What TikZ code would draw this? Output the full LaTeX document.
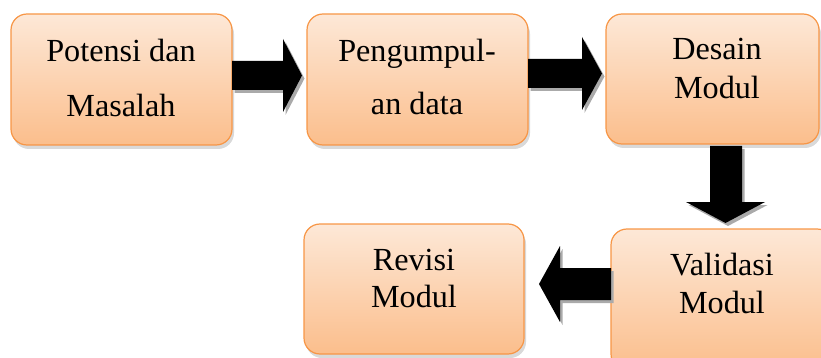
\documentclass[tikz,border=0pt]{standalone}
\usepackage{fontspec}
\setmainfont{Liberation Serif}
\usetikzlibrary{shadows}
\definecolor{boxline}{RGB}{247,150,70}
\definecolor{boxtop}{RGB}{253,232,215}
\definecolor{boxbot}{RGB}{251,190,140}
\definecolor{arrowshade}{RGB}{170,170,170}
\tikzset{
  stepbox/.style={draw=boxline, line width=1.2pt, rounded corners=16pt,
    top color=boxtop, bottom color=boxbot,
    drop shadow={opacity=0.3, shadow xshift=2pt, shadow yshift=-4pt}},
  lbl/.style={font=\fontsize{32.2}{32}\selectfont, anchor=base, inner sep=0pt},
  blockarrow/.style={fill=black},
  blockshadow/.style={fill=arrowshade}
}
\begin{document}
\begin{tikzpicture}[x=1pt,y=-1pt]
\useasboundingbox (0,0) rectangle (821,358);
\begin{scope}
\clip (0,0) rectangle (821,358);
% boxes
\node[stepbox, minimum width=221pt, minimum height=131pt] (b1) at (121.5,79.5) {};
\node[stepbox, minimum width=221pt, minimum height=131pt] (b2) at (417.5,79.5) {};
\node[stepbox, minimum width=213pt, minimum height=130pt] (b3) at (712.5,79) {};
\node[stepbox, minimum width=222pt, minimum height=141pt] (b4) at (722,299.5) {};
\node[stepbox, minimum width=220pt, minimum height=130pt] (b5) at (414,289) {};
% texts
\node[lbl] (t1a) at (121,62) {Potensi dan};
\node[lbl] (t1b) at (121,117) {Masalah};
\node[lbl] (t2a) at (417,62) {Pengumpul-};
\node[lbl] (t2b) at (417,115) {an data};
\node[lbl] (t3a) at (717,60) {Desain};
\node[lbl] (t3b) at (717,99) {Modul};
\node[lbl] (t4a) at (722,275) {Validasi};
\node[lbl] (t4b) at (722,313) {Modul};
\node[lbl] (t5a) at (414,270) {Revisi};
\node[lbl] (t5b) at (414,307) {Modul};
% arrow 1 (right)
\begin{scope}[shift={(2.5,3)}]
\fill[blockshadow] (232,61) -- (283,61) -- (283,39) -- (302,75.5) -- (283,112) -- (283,90) -- (232,90) -- cycle;
\end{scope}
\fill[blockarrow] (232,61) -- (283,61) -- (283,39) -- (302,75.5) -- (283,112) -- (283,90) -- (232,90) -- cycle;
% arrow 2 (right)
\begin{scope}[shift={(2.5,3)}]
\fill[blockshadow] (528,59) -- (582,59) -- (582,37) -- (602,73.5) -- (582,110) -- (582,88) -- (528,88) -- cycle;
\end{scope}
\fill[blockarrow] (528,59) -- (582,59) -- (582,37) -- (602,73.5) -- (582,110) -- (582,88) -- (528,88) -- cycle;
% arrow 3 (down)
\begin{scope}[shift={(2.5,3)}]
\fill[blockshadow] (710,146) -- (742,146) -- (742,202) -- (765,202) -- (725.5,223) -- (686,202) -- (710,202) -- cycle;
\end{scope}
\fill[blockarrow] (710,146) -- (742,146) -- (742,202) -- (765,202) -- (725.5,223) -- (686,202) -- (710,202) -- cycle;
% arrow 4 (left)
\begin{scope}[shift={(2.5,3)}]
\fill[blockshadow] (611,268) -- (560,268) -- (560,246) -- (539,284) -- (560,322) -- (560,300) -- (611,300) -- cycle;
\end{scope}
\fill[blockarrow] (611,268) -- (560,268) -- (560,246) -- (539,284) -- (560,322) -- (560,300) -- (611,300) -- cycle;
\end{scope}
\end{tikzpicture}
\end{document}
